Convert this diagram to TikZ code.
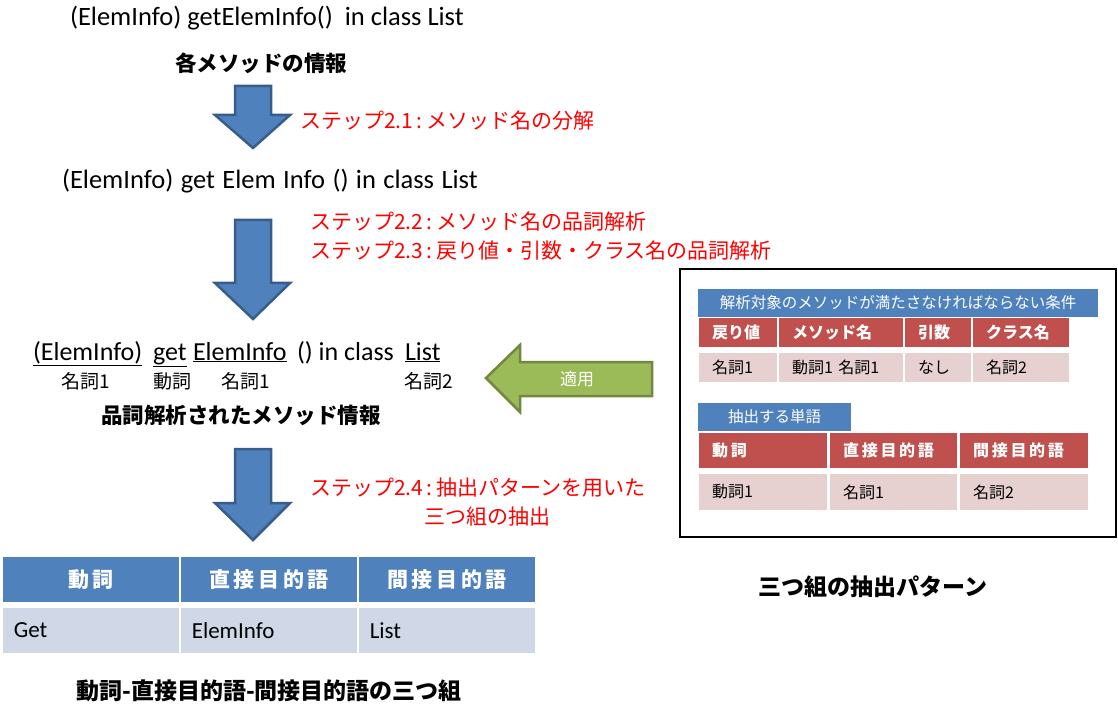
\documentclass[tikz,border=0pt]{standalone}
\usepackage{fontspec}
\setmainfont{Carlito}
\newfontfamily\jp{Noto Sans CJK JP}
\newcommand\fsz[1]{\fontsize{#1}{#1}\selectfont}
\definecolor{oblue}{HTML}{4F81BD}
\definecolor{dblue}{HTML}{385D8A}
\definecolor{ored}{HTML}{C0504D}
\definecolor{opink}{HTML}{E6D0D0}
\definecolor{olight}{HTML}{D0D8E8}
\definecolor{ogreen}{HTML}{9BBB59}
\definecolor{dgreen}{HTML}{71893F}
\tikzset{
  txt/.style={inner sep=0pt, outer sep=0pt, font=\fsz{26.5}},
  heading/.style={inner sep=0pt, font=\fsz{21.5}\jp\bfseries},
  captxt/.style={inner sep=0pt, font=\fsz{23}\jp\bfseries},
  steptxt/.style={inner sep=0pt, text=red, font=\fsz{21}\jp, align=left},
  postag/.style={inner sep=0pt, font=\fsz{19}\jp},
  barrow/.style={fill=oblue, draw=dblue, line width=2.5pt, line join=miter},
  thead/.style={fill=oblue, text=white, inner sep=0pt, font=\fsz{21}\jp\bfseries},
  tbody/.style={fill=olight, inner sep=0pt, font=\fsz{23}},
  rhead/.style={fill=ored, text=white, inner xsep=13pt, inner ysep=0pt, align=left, font=\fsz{16}\jp\bfseries},
  rbody/.style={fill=opink, inner xsep=13pt, inner ysep=0pt, align=left, font=\fsz{16}\jp},
  bbar/.style={fill=oblue, text=white, inner sep=0pt, font=\fsz{15.5}\jp},
}
\begin{document}
\begin{tikzpicture}[x=1pt,y=-1pt]
\useasboundingbox (0,0) rectangle (1118,708);
% line 1
\node[txt, anchor=west] (l1) at (70,18) {(ElemInfo) getElemInfo()\ \ in class List};
\node[heading] (h1) at (261,63) {各メソッドの情報};
\draw[barrow] (235,86) -- (271,86) -- (271,115) -- (290,115) -- (253,148) -- (215,115) -- (235,115) -- cycle;
\node[steptxt, anchor=west] (s1) at (300,121) {ステップ2.1\,:\,メソッド名の分解};
% line 2
\node[txt, anchor=west] (l2) at (62,181) {\spaceskip=0.28em (ElemInfo) get Elem Info () in class List};
\draw[barrow] (235,220) -- (271,220) -- (271,283) -- (290,283) -- (253,319) -- (215,283) -- (235,283) -- cycle;
\node[steptxt, anchor=west] (s2) at (310,222) {ステップ2.2\,:\,メソッド名の品詞解析};
\node[steptxt, anchor=west] (s3) at (310,251) {ステップ2.3\,:\,戻り値・引数・クラス名の品詞解析};
% line 3
\node[txt, font=\fsz{26}, anchor=base west] (w1) at (33,360) {\underline{(ElemInfo)}};
\node[txt, font=\fsz{26}, anchor=base west] (w2) at (153,360) {\underline{get}};
\node[txt, font=\fsz{26}, anchor=base west] (w3) at (193,360) {\underline{ElemInfo}};
\node[txt, font=\fsz{26}, anchor=base west] (w4) at (297,360) {() in class};
\node[txt, font=\fsz{26}, anchor=base west] (w5) at (405,360) {\underline{List}};
\node[postag] (p1) at (86,381) {名詞1};
\node[postag] (p2) at (172,381) {動詞};
\node[postag] (p3) at (246,381) {名詞1};
\node[postag] (p4) at (429,381) {名詞2};
\node[heading] (h2) at (241,415) {品詞解析されたメソッド情報};
% green arrow
\draw[fill=ogreen, draw=dgreen, line width=2.5pt, line join=miter] (652,362) -- (520,362) -- (520,345) -- (486,378) -- (520,412) -- (520,396) -- (652,396) -- cycle;
\node[inner sep=0pt, text=white, font=\fsz{17}\jp] (apply) at (577,379) {適用};
% arrow 3
\draw[barrow] (235,449) -- (271,449) -- (271,503) -- (290,503) -- (253,540) -- (215,503) -- (235,503) -- cycle;
\node[steptxt, anchor=west] (s4) at (310,488) {ステップ2.4\,:\,抽出パターンを用いた};
\node[steptxt] (s5) at (487,517) {三つ組の抽出};
% bottom table
\node[thead, minimum width=176, minimum height=45] (t11) at (91,579.5) {動\,詞};
\node[thead, minimum width=176, minimum height=45] (t12) at (269,579.5) {直\,接\,目\,的\,語};
\node[thead, minimum width=176, minimum height=45] (t13) at (447,579.5) {間\,接\,目\,的\,語};
\node[tbody, minimum width=176, minimum height=45] (t21) at (91,630.5) {};
\node[tbody, minimum width=176, minimum height=45] (t22) at (269,630.5) {};
\node[tbody, minimum width=176, minimum height=45] (t23) at (447,630.5) {};
\node[txt, font=\fsz{23}, anchor=west] (g1) at ([xshift=11pt]t21.west) {Get};
\node[txt, font=\fsz{23}, anchor=west] (g2) at ([xshift=11pt]t22.west) {ElemInfo};
\node[txt, font=\fsz{23}, anchor=west] (g3) at ([xshift=11pt]t23.west) {List};
\node[captxt] (cap1) at (269,691) {動詞-直接目的語-間接目的語の三つ組};
% right box
\node[draw=black, line width=1.5pt, minimum width=436, minimum height=268, inner sep=0pt] (box) at (898,403) {};
\node[bbar, minimum width=400, minimum height=28] (bar1) at (898,303) {解析対象のメソッドが満たさなければならない条件};
\node[rhead, minimum height=29, anchor=west, text width=52] (r11) at (699,332.5) {戻り値};
\node[rhead, minimum height=29, anchor=west, text width=98] (r12) at (779,332.5) {メソッド名};
\node[rhead, minimum height=29, anchor=west, text width=40] (r13) at (905,332.5) {引数};
\node[rhead, minimum height=29, anchor=west, text width=70] (r14) at (973,332.5) {クラス名};
\node[rbody, minimum height=29, anchor=west, text width=52] (r21) at (699,367.5) {名詞1};
\node[rbody, minimum height=29, anchor=west, text width=98] (r22) at (779,367.5) {動詞1\ 名詞1};
\node[rbody, minimum height=29, anchor=west, text width=40] (r23) at (905,367.5) {なし};
\node[rbody, minimum height=29, anchor=west, text width=70] (r24) at (973,367.5) {名詞2};
\node[bbar, minimum width=153, minimum height=28, anchor=west] (bar2) at (698,417) {抽出する単語};
\node[rhead, minimum height=35, anchor=west, text width=102] (q11) at (699,450.5) {動\,詞};
\node[rhead, minimum height=35, anchor=west, text width=101] (q12) at (830,450.5) {直\,接\,目\,的\,語};
\node[rhead, minimum height=35, anchor=west, text width=102] (q13) at (960,450.5) {間\,接\,目\,的\,語};
\node[rbody, minimum height=36, anchor=west, text width=102] (q21) at (699,492) {動詞1};
\node[rbody, minimum height=36, anchor=west, text width=101] (q22) at (830,492) {名詞1};
\node[rbody, minimum height=36, anchor=west, text width=102] (q23) at (960,492) {名詞2};
\node[captxt] (cap2) at (873,587) {三つ組の抽出パターン};
\end{tikzpicture}
\end{document}
